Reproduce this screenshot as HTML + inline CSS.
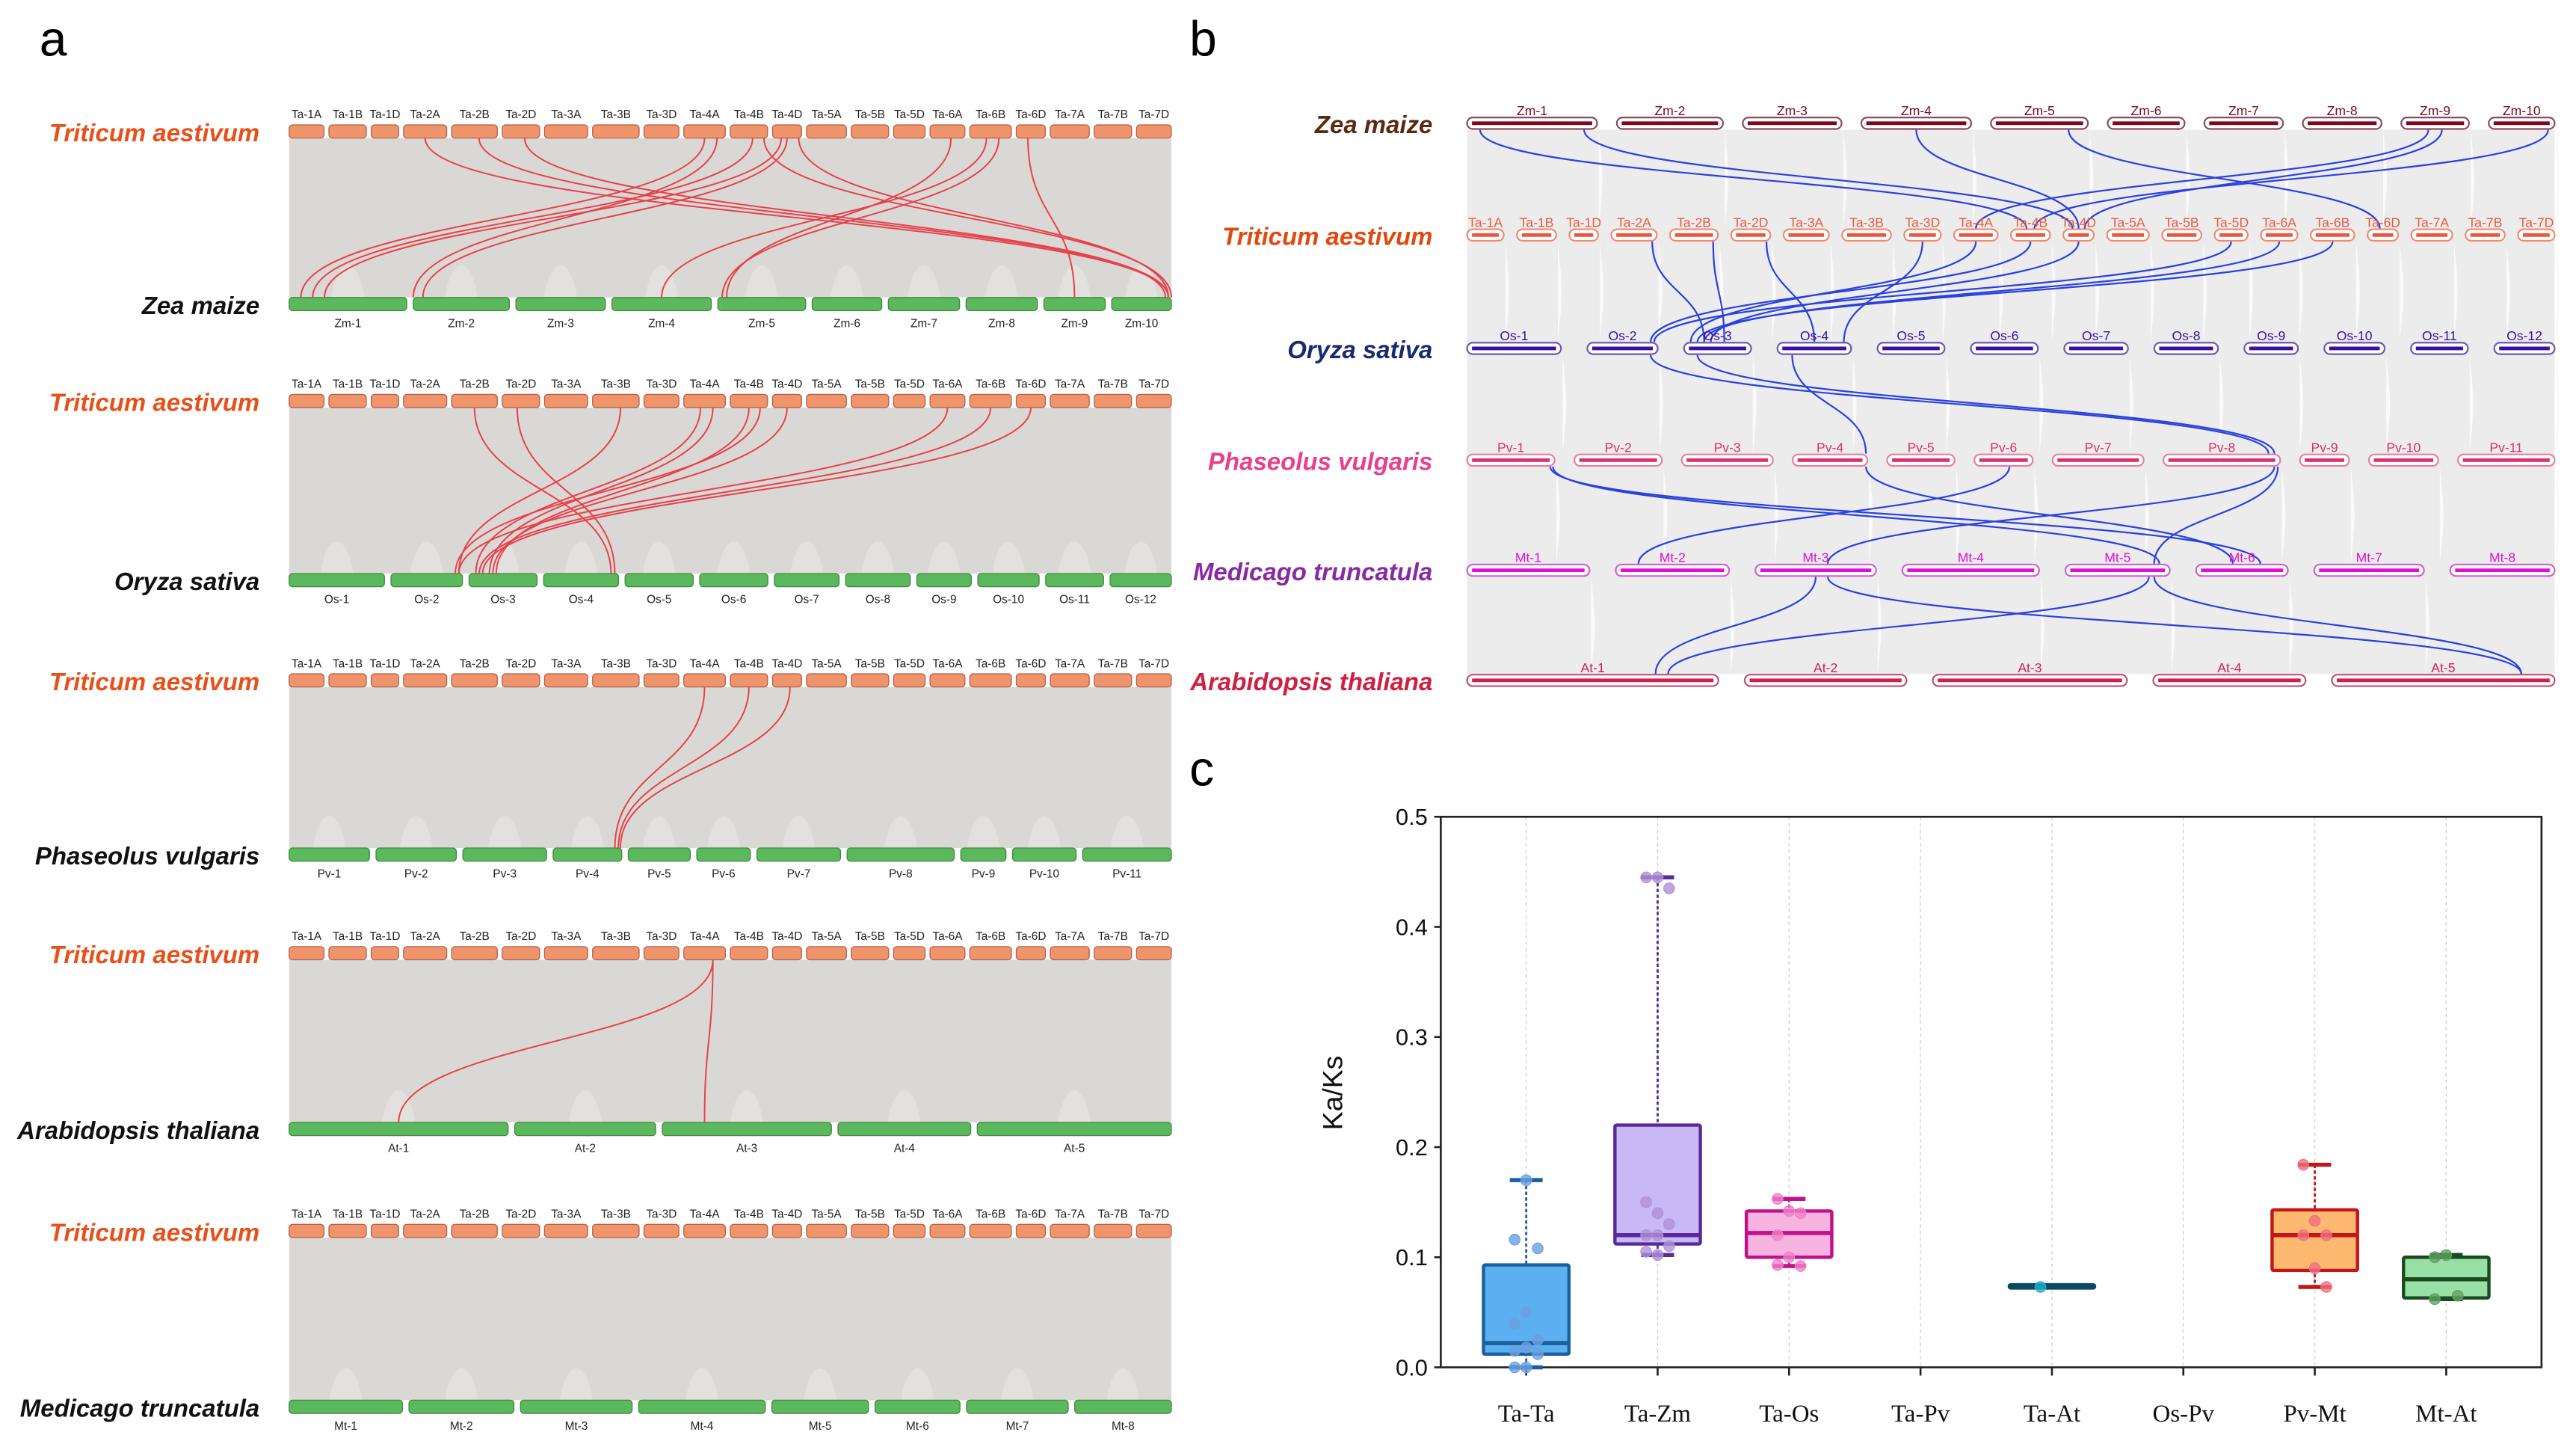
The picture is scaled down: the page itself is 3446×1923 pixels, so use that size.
<!DOCTYPE html>
<html><head><meta charset="utf-8"><style>
html,body{margin:0;padding:0;background:#fff;}
svg{display:block;font-family:"Liberation Sans",sans-serif;}
</style></head><body>
<svg id="fig" width="3446" height="1923" viewBox="0 0 1568 875" xmlns="http://www.w3.org/2000/svg">
<text x="24" y="34" font-size="30">a</text>
<text x="724" y="34" font-size="30">b</text>
<text x="724" y="478" font-size="30">c</text>
<g id="pa"></g>
<g id="pb"></g>
<g id="pc"></g>
</svg>
<script>
const NS="http://www.w3.org/2000/svg";
function mk(p,t,a){const e=document.createElementNS(NS,t);for(const k in a)e.setAttribute(k,a[k]);p.appendChild(e);return e;}
function txt(p,x,y,s,a){const e=mk(p,'text',Object.assign({x:x,y:y},a));e.textContent=s;return e;}

const taNames=['Ta-1A','Ta-1B','Ta-1D','Ta-2A','Ta-2B','Ta-2D','Ta-3A','Ta-3B','Ta-3D','Ta-4A','Ta-4B','Ta-4D','Ta-5A','Ta-5B','Ta-5D','Ta-6A','Ta-6B','Ta-6D','Ta-7A','Ta-7B','Ta-7D'];
const taLen=[42,45,33,52,55,45,52,56,42,50,45,35,48,45,38,42,50,35,47,45,42];
const zmLen=[71,58,54,60,53,42,43,43,37,36];
const osLen=[56,42,40,44,40,40,38,38,32,36,34,36];
const pvLen=[48,48,50,41,37,32,50,64,27,38,53];
const atLen=[132,85,102,80,117];
const mtLen=[68,63,67,76,58,51,61,58];
function names(pre,n){return Array.from({length:n},(_,i)=>pre+(i+1));}

function layout(lens,x0,x1,gap){const tot=lens.reduce((a,b)=>a+b,0);const sc=(x1-x0-gap*(lens.length-1))/tot;let x=x0;return lens.map(l=>{const r=[x,x+l*sc];x+=l*sc+gap;return r;});}
function pos(lay,i,f){return lay[i][0]+(lay[i][1]-lay[i][0])*f;}

const pa=document.getElementById('pa');
const aTop=[80,244,414,580,749], aBot=[185,353,520,687,856];
const aSpecies=['Zea maize','Oryza sativa','Phaseolus vulgaris','Arabidopsis thaliana','Medicago truncatula'];
const aLens=[zmLen,osLen,pvLen,atLen,mtLen];
const aPre=['Zm-','Os-','Pv-','At-','Mt-'];
const aLinks=[
 [[3,0.5,9,0.95],[4,0.6,9,0.95],[5,0.6,9,0.9],[9,0.5,0,0.1],[9,0.8,1,0.0],[10,0.6,0,0.2],[11,0.3,0,0.3],[11,0.5,1,0.1],[10,0.9,9,1.0],[11,0.9,9,0.95],[15,0.6,4,0.1],[16,0.4,3,0.5],[16,0.7,4,0.05],[17,0.4,8,0.5]],
 [[4,0.5,3,0.9],[5,0.4,3,0.95],[7,0.6,1,0.95],[9,0.4,2,0.1],[9,0.7,2,0.3],[10,0.5,2,0.4],[10,0.8,1,0.9],[11,0.5,2,0.35],[15,0.5,1,0.95],[16,0.5,2,0.15],[17,0.5,2,0.2]],
 [[9,0.5,3,0.9],[10,0.5,3,0.95],[11,0.6,3,0.98]],
 [[9,0.7,0,0.5],[9,0.7,2,0.25]],
 []
];
const taLayA=layout(taLen,176,713,3);
for(let r=0;r<5;r++){
 const yT=aTop[r],yB=aBot[r];
 const g=mk(pa,'g',{});
 
 
 const lay=layout(aLens[r],176,713,4);
 mk(g,'path',{d:`M176 ${yT+4} L713 ${yT+4} L713 ${yB-4} L176 ${yB-4} Z`,fill:'#d9d8d5'});
 for(let k=0;k<lay.length;k++){
  const x=(lay[k][0]+lay[k][1])/2;
  mk(g,'path',{d:`M${x-10} ${yB-4} C${x-6} ${yB-30} ${x+6} ${yB-30} ${x+10} ${yB-4}`,fill:'#e2e1de',stroke:'none'});
 }
 txt(g,158,yT+6,'Triticum aestivum',{'font-size':15,'font-weight':'bold','font-style':'italic',fill:'#e8501a','text-anchor':'end'});
 txt(g,158,yB+6,aSpecies[r],{'font-size':15,'font-weight':'bold','font-style':'italic',fill:'#111','text-anchor':'end'});
 taLayA.forEach((c,i)=>{
  const b=mk(g,'rect',{x:c[0],y:yT-4,width:c[1]-c[0],height:8,rx:2,fill:'#f0946c',stroke:'#b8604a','stroke-width':0.6});
  
  
  txt(g,(c[0]+c[1])/2,yT-8,taNames[i],{'font-size':7,'text-anchor':'middle',fill:'#222'});
 });
 lay.forEach((c,i)=>{
  const b=mk(g,'rect',{x:c[0],y:yB-4,width:c[1]-c[0],height:8,rx:2,fill:'#5cb85c',stroke:'#3f8a3f','stroke-width':0.6});
  
  
  txt(g,(c[0]+c[1])/2,yB+14,aPre[r]+(i+1),{'font-size':7,'text-anchor':'middle',fill:'#222'});
 });
 aLinks[r].forEach(l=>{
  const x1=pos(taLayA,l[0],l[1]),x2=pos(lay,l[2],l[3]);
  const m=(yT+yB)/2;
  const p=mk(g,'path',{d:`M${x1} ${yT+4} C${x1} ${m} ${x2} ${m} ${x2} ${yB-4}`,fill:'none',stroke:'#e8404a','stroke-width':0.9});
  
  
 });
}

const pb=document.getElementById('pb');
const bY=[75,143,212,280,347,414];
const bSpecies=['Zea maize','Triticum aestivum','Oryza sativa','Phaseolus vulgaris','Medicago truncatula','Arabidopsis thaliana'];
const bColor=['#5a2a10','#e04a10','#1a2a70','#e8408a','#8a2aa0','#d02040'];
const bBar=['#7a0a20','#e85a40','#3a10a0','#d83070','#e010d0','#d02050'];
const bOut=['#8a4a5a','#f08a70','#6a5ab0','#e880a0','#d060d0','#c05070'];
const bLens=[zmLen,taLen,osLen,pvLen,mtLen,atLen];
const bGap=[12,8,16,12,16,16];
const bNames=[names('Zm-',10),taNames,names('Os-',12),names('Pv-',11),names('Mt-',8),names('At-',5)];
const bLay=bLens.map((l,i)=>layout(l,893,1555,bGap[i]));
mk(pb,'rect',{x:893,y:bY[0]+4,width:662,height:bY[5]-bY[0]-8,fill:'#ececec'});
for(let r=0;r<5;r++){
 bLay[r].forEach((c,k)=>{const y1=bY[r]+4,y2=bY[r+1]-4;
  mk(pb,'path',{d:`M${c[1]+1} ${y1} C${c[1]+4} ${(y1+y2)/2} ${c[1]+4} ${(y1+y2)/2} ${c[1]+1} ${y2}`,fill:'#fafafa'});});
}
const bLinks=[
 [0,0,0.1,10,0.4],[0,0,0.9,11,0.3],[0,3,0.5,11,0.5],[0,4,0.8,17,0.4],[0,8,0.6,11,0.7],[0,9,0.9,10,0.6],[0,8,0.4,9,0.5],
 [1,3,0.9,2,0.3],[1,4,0.9,2,0.6],[1,5,0.9,3,0.5],[1,9,0.5,2,0.1],[1,10,0.5,1,0.9],[1,11,0.5,2,0.4],[1,16,0.5,2,0.2],[1,15,0.5,2,0.3],[1,14,0.5,1,0.95],[1,8,0.5,3,0.9],
 [2,2,0.2,7,0.95],[2,1,0.9,7,0.9],[2,3,0.2,3,0.98],
 [3,0,0.95,5,0.7],[3,0,0.98,4,0.9],[3,5,0.6,1,0.2],[3,7,0.95,2,0.6],[3,7,0.98,4,0.85],[3,3,0.98,5,0.4],
 [4,2,0.5,0,0.75],[4,2,0.6,4,0.85],[4,4,0.8,0,0.8],[4,4,0.85,4,0.85]
];
bLinks.forEach(l=>{
 const r=l[0],y1=bY[r]+4,y2=bY[r+1]-4,x1=pos(bLay[r],l[1],l[2]),x2=pos(bLay[r+1],l[3],l[4]),m=(y1+y2)/2;
 const p=mk(pb,'path',{d:`M${x1} ${y1} C${x1} ${m} ${x2} ${m} ${x2} ${y2}`,fill:'none',stroke:'#2a40e0','stroke-width':1});
 
 
});
for(let r=0;r<6;r++){
 const g=mk(pb,'g',{});
 
 
 txt(g,872,bY[r]+6,bSpecies[r],{'font-size':15,'font-weight':'bold','font-style':'italic',fill:bColor[r],'text-anchor':'end'});
 bLay[r].forEach((c,i)=>{
  const b=mk(g,'rect',{x:c[0],y:bY[r]-3.5,width:c[1]-c[0],height:7,rx:3.5,fill:'#fff',stroke:bOut[r],'stroke-width':1});
  
  
  mk(g,'line',{x1:c[0]+3,x2:c[1]-3,y1:bY[r],y2:bY[r],stroke:bBar[r],'stroke-width':2.2});
  txt(g,(c[0]+c[1])/2,bY[r]-5,bNames[r][i],{'font-size':8,'text-anchor':'middle',fill:bBar[r]});
 });
}

const cats=['Ta-Ta','Ta-Zm','Ta-Os','Ta-Pv','Ta-At','Os-Pv','Pv-Mt','Mt-At'];
const vMin=[0,0.102,0.092,null,0.073,null,0.073,0.062];
const vQ1=[0.012,0.112,0.1,null,0.072,null,0.088,0.063];
const vMed=[0.022,0.12,0.122,null,0.073,null,0.12,0.08];
const vQ3=[0.093,0.22,0.142,null,0.075,null,0.143,0.1];
const vMax=[0.17,0.445,0.153,null,0.074,null,0.184,0.102];
const pts=[[0,0,0.012,0.015,0.018,0.025,0.04,0.05,0.108,0.116,0.17],[0.445,0.445,0.435,0.15,0.14,0.13,0.12,0.12,0.11,0.105,0.102],[0.153,0.142,0.14,0.12,0.1,0.092,0.093],[],[0.073],[],[0.184,0.133,0.12,0.12,0.09,0.073],[0.1,0.102,0.065,0.062]];
const yTicks=[0,0.1,0.2,0.3,0.4,0.5];
const fillC=['#5cb0f2','#c8b8f5','#f8b4e0',null,'#0a4a60',null,'#ffb870','#98e0a8'];
const strokeC=['#1a5fa0','#5a2a9a','#c0108a',null,'#0a4a60',null,'#c01818','#1a4a20'];
const ptC=['#6aa0e0','#b090d8','#f080c8',null,'#20b0d0',null,'#f07080','#60a060'];
const pc=document.getElementById('pc');
const X0=877,X1=1547,Yt=497,Yb=832;
const ys=v=>Yb-(v/0.5)*(Yb-Yt);
const xs=i=>929+i*80;
cats.forEach((c,i)=>mk(pc,'line',{x1:xs(i),x2:xs(i),y1:Yt,y2:Yb,stroke:'#ccc','stroke-width':0.6,'stroke-dasharray':'2,2'}));
mk(pc,'rect',{x:X0,y:Yt,width:X1-X0,height:Yb-Yt,fill:'none',stroke:'#222','stroke-width':1.2});
yTicks.forEach(t=>{mk(pc,'line',{x1:X0-4,x2:X0,y1:ys(t),y2:ys(t),stroke:'#222','stroke-width':1.2});
 const e=txt(pc,X0-8,ys(t)+5,t.toFixed(1),{'font-size':14,'text-anchor':'end',fill:'#111'});
 });
const yl=txt(pc,0,0,'Ka/Ks',{'font-size':17,transform:'translate(817,665) rotate(-90)','text-anchor':'middle',fill:'#111'});

cats.forEach((c,i)=>{
 mk(pc,'line',{x1:xs(i),x2:xs(i),y1:Yb,y2:Yb+5,stroke:'#222','stroke-width':1.2});
 const e=txt(pc,xs(i),Yb+33,c,{'font-size':15,'text-anchor':'middle',fill:'#111','font-family':'Liberation Serif, serif'});
 
 if(vMed[i]===null)return;
 const g=mk(pc,'g',{});
 
 
 const x=xs(i),w=26,s=strokeC[i];
 mk(g,'line',{x1:x,x2:x,y1:ys(vMax[i]),y2:ys(vMin[i]),stroke:s,'stroke-width':1.3,'stroke-dasharray':'2,1.5'});
 mk(g,'line',{x1:x-10,x2:x+10,y1:ys(vMax[i]),y2:ys(vMax[i]),stroke:s,'stroke-width':2.5});
 mk(g,'line',{x1:x-10,x2:x+10,y1:ys(vMin[i]),y2:ys(vMin[i]),stroke:s,'stroke-width':2.5});
 mk(g,'rect',{x:x-w,y:ys(vQ3[i]),width:2*w,height:Math.max(ys(vQ1[i])-ys(vQ3[i]),2),fill:fillC[i],stroke:s,'stroke-width':2,rx:1});
 mk(g,'line',{x1:x-w,x2:x+w,y1:ys(vMed[i]),y2:ys(vMed[i]),stroke:s,'stroke-width':2.5});
 pts[i].forEach((v,k)=>{const off=((k%3)-1)*7;
  mk(g,'circle',{cx:x+off,cy:ys(v),r:3.3,fill:ptC[i],'fill-opacity':0.8,stroke:ptC[i],'stroke-width':0.5});});
});
</script>
</body></html>
